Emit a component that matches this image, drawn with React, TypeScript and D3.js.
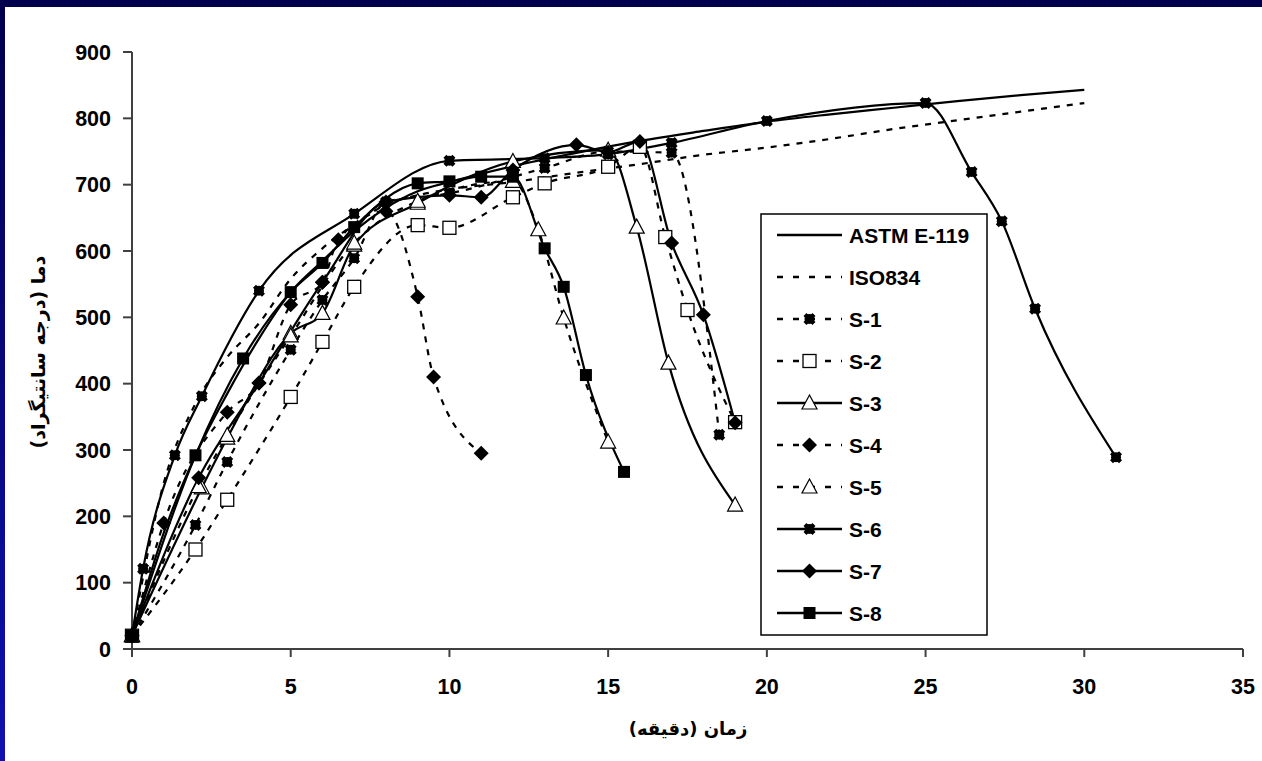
import React from 'react';
import * as d3 from 'd3';

// values (minutes, degrees C)
const astm: [number, number][] = [
  [0, 20], [1, 175], [2, 292], [3, 385], [4, 468], [5, 538], [6, 585], [7, 630], [8, 665],
  [9, 690], [10, 704], [12, 728], [14, 748], [16, 766], [18, 781], [20, 795], [22, 806],
  [24, 816], [26, 826], [28, 835], [30, 843],
];
const iso: [number, number][] = [
  [0, 20], [1, 250], [2, 370], [3, 440], [4, 491], [5, 558], [6, 604], [7, 640], [8, 670],
  [9, 684], [10, 693], [12, 704], [14, 718], [16, 731], [18, 745], [20, 756], [22, 769],
  [24, 784], [26, 797], [28, 810], [30, 823],
];
const s1: [number, number][] = [
  [0, 20], [2, 187], [3, 282], [5, 451], [6, 526], [7, 589], [8, 674], [10, 687],
  [13, 725], [15, 750], [17, 748], [18.5, 323],
];
const s2: [number, number][] = [
  [0, 20], [2, 150], [3, 225], [5, 380], [6, 463], [7, 546], [9, 639], [10, 635],
  [12, 681], [13, 702], [15, 727], [16, 757], [16.8, 621], [17.5, 511], [19, 342],
];
const s3: [number, number][] = [
  [0, 20], [2.2, 243], [3, 318], [5, 476], [6, 506], [7, 609], [9, 672], [12, 735],
  [15, 752], [15.9, 636], [16.9, 431], [19, 217],
];
const s4: [number, number][] = [
  [0, 20], [1, 190], [3, 357], [4, 401], [5, 519], [6, 553], [6.5, 617], [8, 660],
  [9, 531], [9.5, 410], [11, 295],
];
const s5: [number, number][] = [
  [0, 20], [2.1, 245], [3, 322], [5, 472], [7, 612], [9, 675], [12, 705],
  [12.8, 632], [13.6, 499], [15, 312],
];
const s6: [number, number][] = [
  [0, 20], [0.35, 121], [1.35, 292], [2.2, 381], [4, 540], [7, 656], [10, 736],
  [13, 740], [15, 746], [17, 763], [20, 796], [25, 823], [26.45, 719], [27.4, 645],
  [28.45, 513], [31, 289],
];
const s7: [number, number][] = [
  [0, 20], [2.1, 258], [4, 401], [6, 553], [8, 674], [10, 684], [11, 681], [12, 722],
  [14, 760], [15, 749], [16, 765], [17, 612], [18, 504], [19, 341],
];
const s8: [number, number][] = [
  [0, 20], [2, 292], [3.5, 438], [5, 538], [6, 582], [7, 636], [9, 702], [10, 705],
  [11, 712], [12, 712], [13, 604], [13.6, 546], [14.3, 413], [15.5, 267],
];

const xTicks = [0, 5, 10, 15, 20, 25, 30, 35];
const yTicks = [0, 100, 200, 300, 400, 500, 600, 700, 800, 900];
const xTitle = 'زمان (دقیقه)';
const yTitle = 'دما (درجه سانتیگراد)';

type Mk = 'none' | 'dot' | 'sqOpen' | 'triOpen' | 'diamond' | 'square';
const series: { name: string; data: [number, number][]; dashed: boolean; marker: Mk }[] = [
  { name: 'ASTM E-119', data: astm, dashed: false, marker: 'none' },
  { name: 'ISO834', data: iso, dashed: true, marker: 'none' },
  { name: 'S-1', data: s1, dashed: true, marker: 'dot' },
  { name: 'S-2', data: s2, dashed: true, marker: 'sqOpen' },
  { name: 'S-3', data: s3, dashed: false, marker: 'triOpen' },
  { name: 'S-4', data: s4, dashed: true, marker: 'diamond' },
  { name: 'S-5', data: s5, dashed: true, marker: 'triOpen' },
  { name: 'S-6', data: s6, dashed: false, marker: 'dot' },
  { name: 'S-7', data: s7, dashed: false, marker: 'diamond' },
  { name: 'S-8', data: s8, dashed: false, marker: 'square' },
];

const W = 1262;
const H = 761;
const x = d3.scaleLinear().domain([0, 35]).range([132, 1243]);
const y = d3.scaleLinear().domain([0, 900]).range([649, 52]);
const line = d3.line<[number, number]>()
  .x(d => x(d[0]))
  .y(d => y(d[1]))
  .curve(d3.curveMonotoneX);

const Marker = ({ type, cx, cy }: { type: Mk; cx: number; cy: number }) => {
  if (type === 'dot') {
    return (
      <g>
        <circle cx={cx} cy={cy} r={5} fill="#000" />
        <path d={d3.symbol(d3.symbolCross, 90)()!} transform={`translate(${cx},${cy}) rotate(45)`} fill="#000" />
      </g>
    );
  }
  if (type === 'sqOpen') return <rect x={cx - 6.5} y={cy - 6.5} width={13} height={13} fill="#fff" stroke="#000" strokeWidth={1.3} />;
  if (type === 'square') return <rect x={cx - 6} y={cy - 6} width={12} height={12} fill="#000" />;
  if (type === 'diamond') return <path d={`M${cx},${cy - 7.5}L${cx + 7.5},${cy}L${cx},${cy + 7.5}L${cx - 7.5},${cy}Z`} fill="#000" />;
  if (type === 'triOpen') {
    return <path d={`M${cx},${cy - 8}L${cx + 7.5},${cy + 6}L${cx - 7.5},${cy + 6}Z`} fill="#fff" stroke="#000" strokeWidth={1.2} />;
  }
  return null;
};

export default function App() {
  const legX = 761;
  const legY = 214;
  const legW = 226;
  const legH = 421;
  const font = '"Liberation Sans", Arial, sans-serif';
  const arabic = '"DejaVu Sans", sans-serif';

  return (
    <svg width={W} height={H} style={{ position: 'absolute', left: 0, top: 0, background: '#fff' }}>
      <defs>
        <linearGradient id="side" x1="0" y1="0" x2="0" y2="1">
          <stop offset="0" stopColor="#00004c" />
          <stop offset="1" stopColor="#1010b0" />
        </linearGradient>
      </defs>
      <rect x={0} y={0} width={W} height={H} fill="#fff" />
      <rect x={0} y={0} width={W} height={7} fill="#00004c" />
      <rect x={0} y={0} width={5} height={H} fill="url(#side)" />

      {/* axes */}
      <g stroke="#404040" strokeWidth={2} fill="none">
        <line x1={x(0)} x2={x(35)} y1={y(0)} y2={y(0)} />
        <line x1={x(0)} x2={x(0)} y1={y(0)} y2={y(900)} />
        {xTicks.map(t => <line key={t} x1={x(t)} x2={x(t)} y1={y(0)} y2={y(0) + 8} />)}
        {yTicks.map(t => <line key={t} x1={x(0) - 9} x2={x(0)} y1={y(t)} y2={y(t)} />)}
      </g>
      <g fontFamily={font} fontWeight="bold" fontSize={21.5} fill="#000">
        {xTicks.map(t => (
          <text key={t} x={x(t)} y={694} textAnchor="middle">{t}</text>
        ))}
        {yTicks.map(t => (
          <text key={t} x={111} y={y(t)} dy="0.36em" textAnchor="end">{t}</text>
        ))}
      </g>
      <text x={688} y={735} textAnchor="middle" fontFamily={arabic} fontWeight="bold" fontSize={18} direction="rtl">{xTitle}</text>
      <text transform="translate(45,352) rotate(-90)" textAnchor="middle" fontFamily={arabic} fontWeight="bold" fontSize={19} direction="rtl">{yTitle}</text>

      {/* series */}
      <g fill="none" stroke="#000" strokeWidth={2.2}>
        {series.map(s => (
          <path key={s.name} d={line(s.data)!} strokeDasharray={s.dashed ? '6,7' : undefined} />
        ))}
      </g>
      <g>
        {series.map(s => s.data.map((d, i) => (
          <Marker key={s.name + i} type={s.marker} cx={x(d[0])} cy={y(d[1])} />
        )))}
      </g>

      {/* legend */}
      <rect x={legX} y={legY} width={legW} height={legH} fill="#fff" stroke="#000" strokeWidth={1.5} />
      {series.map((s, i) => {
        const cy = 235 + i * 42;
        return (
          <g key={s.name}>
            <line x1={777} x2={842} y1={cy} y2={cy} stroke="#000" strokeWidth={2.5}
              strokeDasharray={s.dashed ? '6,10' : undefined} />
            <Marker type={s.marker} cx={809.5} cy={cy} />
            <text x={849} y={cy} dy="0.36em" fontFamily={font} fontWeight="bold" fontSize={21}>{s.name}</text>
          </g>
        );
      })}
    </svg>
  );
}
